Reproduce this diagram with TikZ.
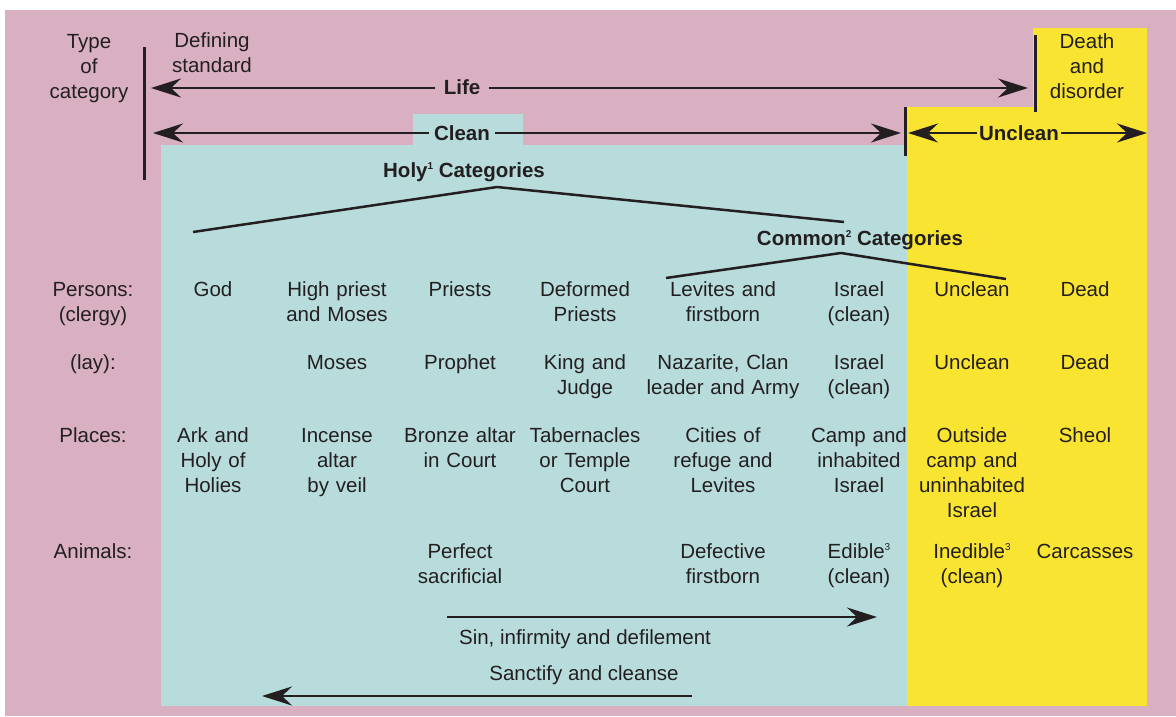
\documentclass[tikz,border=0pt]{standalone}
\usepackage{fontspec}
\setmainfont{Liberation Sans}
\usetikzlibrary{arrows.meta}
\definecolor{pinkbg}{RGB}{216,176,193}
\definecolor{tealbg}{RGB}{184,220,220}
\definecolor{yellowbg}{RGB}{250,228,50}
\definecolor{ink}{RGB}{35,31,32}
\newcommand{\mysup}[1]{\raisebox{7.5pt}{\fontsize{10}{10}\selectfont #1}}
\begin{document}
\begin{tikzpicture}[x=1pt,y=-1pt,
  txt/.style={font=\fontsize{20.5}{25}\selectfont, text=ink, align=center,
    text width=170pt, inner sep=0pt, anchor=base},
  line1/.style={font=\fontsize{20.5}{25}\selectfont, text=ink, inner sep=0pt, anchor=base},
  bold/.style={font=\fontsize{20.5}{25}\selectfont\bfseries, text=ink, inner sep=0pt, anchor=base},
  lbl/.style={font=\fontsize{20.5}{25}\selectfont\bfseries, text=ink, inner ysep=2pt, anchor=center},
  span/.style={draw=ink, line width=2.5pt,
    {Stealth[length=30pt,width=19pt,inset=10pt]}-{Stealth[length=30pt,width=19pt,inset=10pt]}},
  flow/.style={draw=ink, line width=2.5pt, -{Stealth[length=30pt,width=19pt,inset=10pt]}},
  bar/.style={draw=ink, line width=3pt},
  branch/.style={draw=ink, line width=2.5pt, line join=round}
]
\useasboundingbox (0,0) rectangle (1176,716);
% backgrounds
\fill[white] (0,0) rectangle (1176,716);
\fill[pinkbg] (5,10) rectangle (1176,716);
\fill[tealbg] (161,145) rectangle (907,706);
\fill[tealbg] (413,114) rectangle (523,145);
\fill[yellowbg] (907,107) rectangle (1147,706);
\fill[yellowbg] (1033,28) rectangle (1147,107);

% vertical bars
\coordinate (b1t) at (144,47);  \coordinate (b1b) at (144,180);
\coordinate (b2t) at (905,107); \coordinate (b2b) at (905,156);
\coordinate (b3t) at (1035,35); \coordinate (b3b) at (1035,112);
\draw[bar] (b1t) -- (b1b);
\draw[bar] (b2t) -- (b2b);
\draw[bar] (b3t) -- (b3b);

% span arrows
\coordinate (lifeL) at (151,88);  \coordinate (lifeR) at (1028,88);
\coordinate (cleanL) at (153,133); \coordinate (cleanR) at (901,133);
\coordinate (uncL) at (908,133);  \coordinate (uncR) at (1147,133);
\draw[span] (lifeL) -- (lifeR);
\draw[span] (cleanL) -- (cleanR);
\draw[span] (uncL) -- (uncR);
\node[lbl, fill=pinkbg, inner xsep=9pt] (life) at (462,87.5) {Life};
\node[lbl, fill=tealbg, inner xsep=5pt] (clean) at (462,133) {Clean};
\node[lbl, fill=yellowbg, inner xsep=2pt] (unclean) at (1019,133) {Unclean};

% header texts
\node[txt] (type) at (89,48) {Type\\of\\category};
\node[txt] (defstd) at (212,47) {Defining\\standard};
\node[txt] (death) at (1087,48) {Death\\and\\disorder};

% categories
\node[bold] (holy) at (464,177) {Holy\mysup{1} Categories};
\node[bold] (common) at (860,245) {Common\mysup{2} Categories};
\coordinate (h1) at (193,232); \coordinate (h2) at (497,187); \coordinate (h3) at (844,222);
\draw[branch] (h1) -- (h2) -- (h3);
\coordinate (c1) at (666,278); \coordinate (c2) at (841,253); \coordinate (c3) at (1006,279);
\draw[branch] (c1) -- (c2) -- (c3);

% row labels
\node[txt] (rPersons) at (93,296) {Persons:\\(clergy)};
\node[txt] (rLay) at (93,369) {(lay):};
\node[txt] (rPlaces) at (93,442) {Places:};
\node[txt] (rAnimals) at (93,558) {Animals:};

% persons (clergy)
\node[txt] (p1) at (213,296) {God};
\node[txt] (p2) at (337,296) {High priest\\and Moses};
\node[txt] (p3) at (460,296) {Priests};
\node[txt] (p4) at (585,296) {Deformed\\Priests};
\node[txt] (p5) at (723,296) {Levites and\\firstborn};
\node[txt] (p6) at (859,296) {Israel\\(clean)};
\node[txt] (p7) at (972,296) {Unclean};
\node[txt] (p8) at (1085,296) {Dead};

% lay
\node[txt] (l2) at (337,369) {Moses};
\node[txt] (l3) at (460,369) {Prophet};
\node[txt] (l4) at (585,369) {King and\\Judge};
\node[txt] (l5) at (723,369) {Nazarite, Clan\\leader and Army};
\node[txt] (l6) at (859,369) {Israel\\(clean)};
\node[txt] (l7) at (972,369) {Unclean};
\node[txt] (l8) at (1085,369) {Dead};

% places
\node[txt] (s1) at (213,442) {Ark and\\Holy of\\Holies};
\node[txt] (s2) at (337,442) {Incense\\altar\\by veil};
\node[txt] (s3) at (460,442) {Bronze altar\\in Court};
\node[txt] (s4) at (585,442) {Tabernacles\\or Temple\\Court};
\node[txt] (s5) at (723,442) {Cities of\\refuge and\\Levites};
\node[txt] (s6) at (859,442) {Camp and\\inhabited\\Israel};
\node[txt] (s7) at (972,442) {Outside\\camp and\\uninhabited\\Israel};
\node[txt] (s8) at (1085,442) {Sheol};

% animals
\node[txt] (a3) at (460,558) {Perfect\\sacrificial};
\node[txt] (a5) at (723,558) {Defective\\firstborn};
\node[txt] (a6) at (859,558) {Edible\mysup{3}\\(clean)};
\node[txt] (a7) at (972,558) {Inedible\mysup{3}\\(clean)};
\node[txt] (a8) at (1085,558) {Carcasses};

% flows
\coordinate (sinL) at (447,617); \coordinate (sinR) at (877,617);
\draw[flow] (sinL) -- (sinR);
\node[line1] (sin) at (585,644) {Sin, infirmity and defilement};
\node[line1] (sanct) at (584,680) {Sanctify and cleanse};
\coordinate (sanR) at (692,696); \coordinate (sanL) at (262,696);
\draw[flow] (sanR) -- (sanL);
\end{tikzpicture}
\end{document}
